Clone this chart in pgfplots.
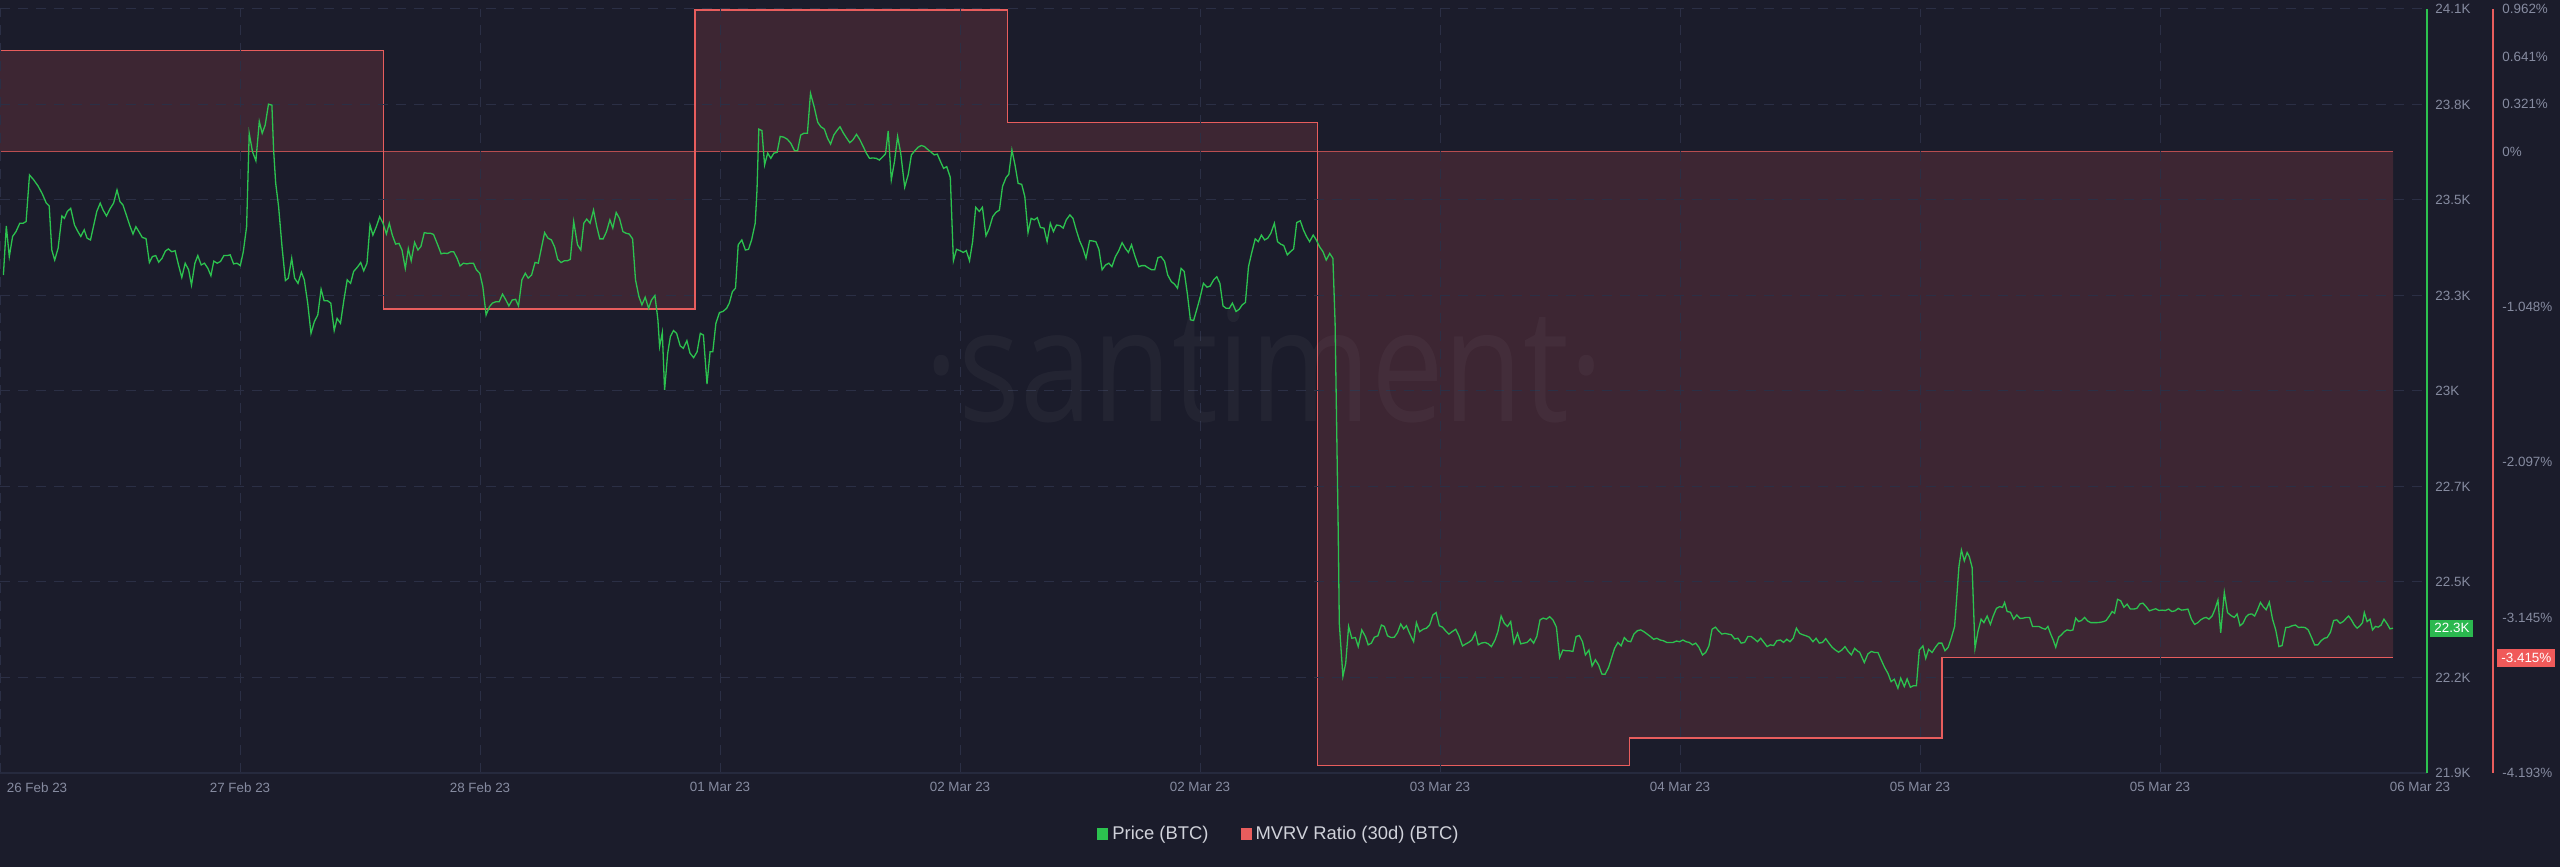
\documentclass[border=0pt]{standalone}
\usepackage{pgfplots}
\usepackage{pgfplotstable}
\usepackage{graphicx}
\usepackage{fontspec}
\pgfplotsset{compat=1.18}
\setmainfont{Liberation Sans}
\newfontfamily\wmfont{Open Sans}
\definecolor{bg}{HTML}{1B1C2B}
\definecolor{gridc}{HTML}{2B2F45}
\definecolor{axisc}{HTML}{262A3E}
\definecolor{tickc}{HTML}{868BA0}
\definecolor{legc}{HTML}{D0D2DA}
\definecolor{pgreen}{HTML}{2CC24F}
\definecolor{ptag}{HTML}{2BB84F}
\definecolor{mred}{HTML}{E85D5D}
\definecolor{mtag}{HTML}{F05A5A}
\newcommand\ticksize{\fontsize{6.7}{8}\selectfont}

\pgfplotstableread{
x y
3.4 23334
6.3 23475
9.3 23387
12.6 23445
16.0 23459
19.8 23483
23.1 23483
26.1 23488
29.5 23622
33.7 23608
37.9 23591
42.1 23569
46.3 23541
49.2 23533
51.8 23406
54.7 23377
58.1 23411
61.9 23504
64.4 23497
67.3 23517
70.7 23526
74.5 23478
77.9 23459
80.8 23445
84.2 23464
87.1 23440
90.5 23435
93.4 23473
96.8 23517
100.2 23541
103.1 23521
106.5 23504
110.3 23526
113.6 23541
117.0 23579
120.0 23545
122.9 23536
126.3 23507
129.6 23478
133.0 23452
135.9 23473
138.9 23459
142.3 23442
146.0 23439
149.4 23370
152.4 23387
155.7 23390
158.7 23371
162.0 23382
165.4 23403
168.4 23409
171.7 23401
175.1 23404
178.5 23363
181.8 23327
185.2 23368
188.6 23349
191.5 23305
194.9 23368
197.8 23390
201.2 23363
204.5 23368
207.9 23353
210.9 23332
213.8 23374
217.2 23368
220.5 23373
223.9 23390
227.3 23390
230.2 23392
233.6 23366
237.0 23368
240.3 23361
243.3 23401
246.6 23473
249.2 23742
252.5 23689
255.9 23663
259.3 23776
262.2 23742
265.2 23766
268.5 23826
271.9 23823
273.6 23694
275.7 23598
278.6 23531
282.0 23416
285.4 23318
288.3 23325
291.7 23382
294.6 23325
298.0 23310
301.4 23342
304.3 23320
307.7 23253
311.0 23166
314.4 23200
317.8 23219
321.1 23293
324.1 23260
327.5 23260
330.8 23253
334.2 23174
337.1 23209
340.5 23195
343.9 23262
347.2 23320
350.6 23310
353.6 23344
357.8 23358
360.7 23370
363.7 23346
367.0 23368
370.0 23478
372.9 23449
376.3 23473
379.7 23502
383.0 23483
386.4 23452
389.3 23483
392.3 23449
395.6 23423
399.0 23425
402.0 23406
405.3 23353
408.3 23410
411.2 23375
414.6 23428
417.9 23406
420.9 23416
424.3 23456
427.6 23454
430.6 23454
433.5 23451
437.7 23421
441.1 23395
444.0 23397
447.4 23396
450.8 23401
453.7 23401
457.1 23382
460.0 23360
463.4 23368
466.8 23366
470.1 23368
473.5 23368
476.4 23349
479.8 23339
482.8 23301
486.1 23219
489.5 23243
492.4 23253
495.8 23257
499.2 23257
502.5 23279
505.5 23264
508.9 23245
512.2 23262
515.6 23264
518.5 23245
521.9 23320
525.3 23339
528.2 23325
531.6 23334
535.0 23370
538.3 23368
541.7 23416
544.6 23456
548.0 23440
551.4 23435
554.7 23414
557.7 23379
561.1 23370
564.4 23375
567.4 23375
570.3 23379
573.7 23488
577.5 23421
580.8 23406
583.8 23483
586.7 23495
590.1 23483
593.5 23521
596.8 23473
599.8 23438
603.1 23438
606.5 23459
609.9 23493
612.8 23469
616.2 23514
619.5 23497
622.9 23459
626.3 23454
629.2 23452
632.6 23438
635.5 23320
638.9 23272
641.9 23248
645.2 23270
648.6 23238
651.5 23262
654.9 23275
657.9 23205
659.6 23128
662.3 23168
664.6 23003
667.7 23109
670.4 23157
673.5 23174
676.6 23166
680.2 23130
683.3 23123
686.9 23145
690.0 23109
693.6 23096
697.1 23113
700.3 23166
703.4 23161
707.0 23020
710.1 23113
712.8 23113
715.9 23195
719.5 23226
723.0 23229
726.6 23238
729.3 23253
732.4 23286
735.5 23296
738.2 23421
741.8 23435
745.4 23406
748.5 23408
751.6 23435
755.2 23483
757.0 23579
758.8 23754
761.9 23750
764.6 23651
767.7 23685
770.8 23670
773.9 23685
777.1 23687
780.2 23733
783.7 23731
787.3 23725
790.9 23713
794.5 23692
797.6 23692
800.7 23737
803.8 23742
807.4 23742
810.5 23857
814.1 23819
817.7 23774
820.8 23761
824.4 23754
827.5 23728
830.6 23711
833.8 23737
836.9 23750
840.0 23761
843.1 23744
846.7 23728
849.8 23715
852.9 23723
856.5 23739
859.6 23725
863.2 23704
866.3 23685
869.5 23670
873.0 23671
876.2 23670
879.3 23665
882.9 23675
885.5 23683
888.2 23749
891.3 23608
894.5 23661
897.6 23733
900.7 23685
904.7 23587
908.3 23624
911.4 23680
914.6 23691
918.1 23702
921.3 23707
924.4 23704
927.5 23696
930.6 23689
934.2 23680
937.3 23682
940.4 23661
943.6 23641
946.7 23646
950.3 23615
953.4 23375
956.5 23408
960.1 23404
963.2 23399
966.3 23404
969.5 23375
972.6 23430
975.7 23529
979.3 23517
982.4 23529
986.0 23447
989.1 23467
992.7 23502
995.8 23514
999.4 23521
1002.5 23589
1006.1 23615
1008.8 23624
1011.9 23694
1015.0 23651
1018.1 23598
1021.7 23595
1024.8 23560
1028.0 23456
1031.1 23497
1034.2 23493
1037.3 23499
1040.4 23471
1044.0 23469
1047.1 23430
1050.3 23483
1053.4 23459
1056.5 23478
1060.1 23476
1063.2 23469
1066.3 23493
1069.9 23507
1073.0 23497
1076.2 23464
1079.7 23432
1082.9 23411
1086.0 23382
1089.6 23433
1092.7 23432
1095.8 23430
1098.9 23408
1102.1 23349
1105.6 23363
1108.8 23368
1111.9 23358
1115.4 23387
1118.6 23403
1122.1 23427
1125.3 23411
1128.4 23399
1131.5 23421
1135.1 23387
1138.7 23358
1141.8 23361
1144.9 23361
1148.0 23355
1151.6 23349
1154.7 23349
1157.9 23384
1161.0 23387
1164.6 23373
1167.7 23334
1171.3 23315
1174.4 23308
1177.5 23296
1181.1 23353
1184.2 23344
1187.3 23281
1190.4 23205
1193.6 23203
1197.1 23238
1200.3 23272
1203.4 23310
1207.0 23299
1210.1 23302
1213.7 23320
1216.8 23329
1219.9 23310
1223.0 23245
1226.2 23238
1229.3 23238
1232.4 23253
1236.0 23229
1239.1 23235
1242.2 23248
1245.4 23255
1248.5 23358
1251.6 23397
1255.2 23438
1258.3 23430
1261.4 23449
1264.6 23435
1267.7 23440
1270.8 23454
1274.4 23483
1277.5 23430
1280.6 23423
1283.7 23419
1287.3 23392
1290.4 23401
1293.6 23409
1296.7 23485
1300.3 23490
1303.4 23464
1306.5 23445
1309.6 23430
1313.2 23449
1316.3 23435
1319.4 23416
1323.0 23401
1326.2 23377
1329.7 23396
1332.9 23382
1335.1 23195
1338.2 22600
1339.3 22331
1342.9 22178
1345.7 22216
1348.6 22322
1351.8 22288
1355.4 22290
1358.2 22264
1361.8 22312
1365.4 22293
1368.2 22269
1371.4 22274
1374.3 22291
1377.9 22295
1381.4 22326
1384.3 22322
1387.5 22295
1391.1 22290
1394.3 22291
1397.5 22304
1400.7 22329
1403.6 22315
1406.4 22324
1409.6 22302
1413.6 22278
1416.4 22333
1419.6 22307
1423.2 22314
1426.4 22317
1429.6 22326
1432.9 22355
1436.1 22362
1439.3 22324
1442.5 22320
1445.7 22309
1448.9 22300
1452.1 22307
1455.7 22314
1458.9 22295
1462.5 22266
1465.4 22271
1468.6 22276
1471.8 22283
1475.4 22304
1478.2 22269
1481.4 22274
1485.0 22276
1488.2 22272
1491.4 22264
1495.0 22283
1497.9 22307
1501.1 22352
1504.3 22331
1507.5 22322
1510.7 22336
1513.9 22274
1517.5 22302
1520.7 22272
1523.9 22274
1527.1 22276
1530.4 22286
1533.6 22274
1536.8 22293
1540.0 22341
1543.2 22346
1546.4 22343
1549.6 22350
1552.9 22341
1556.4 22320
1559.6 22232
1562.9 22254
1566.1 22252
1569.3 22252
1572.9 22250
1576.1 22293
1579.3 22296
1582.5 22278
1585.4 22240
1588.9 22254
1592.1 22208
1595.4 22226
1598.6 22211
1601.8 22185
1605.0 22184
1608.6 22204
1611.4 22230
1614.6 22259
1617.9 22276
1621.1 22266
1624.3 22290
1627.5 22280
1630.7 22278
1633.9 22300
1637.5 22310
1640.7 22312
1643.9 22307
1647.1 22300
1650.4 22293
1653.6 22285
1656.8 22288
1660.0 22283
1663.2 22281
1666.8 22276
1670.0 22276
1673.2 22276
1676.4 22280
1679.6 22278
1682.9 22283
1686.1 22278
1689.3 22276
1692.5 22269
1695.7 22274
1698.9 22262
1702.5 22240
1705.7 22247
1708.9 22266
1712.1 22314
1715.4 22320
1718.6 22309
1721.8 22300
1725.0 22302
1728.2 22300
1731.4 22298
1734.6 22286
1737.9 22288
1741.1 22274
1744.6 22276
1747.9 22293
1751.1 22293
1754.3 22286
1757.5 22278
1760.7 22288
1763.9 22276
1767.1 22264
1770.4 22269
1773.6 22267
1776.8 22281
1780.4 22283
1783.6 22276
1786.8 22285
1790.0 22278
1793.2 22288
1796.4 22317
1799.6 22302
1802.9 22298
1806.1 22295
1809.3 22291
1812.9 22278
1816.1 22288
1819.3 22274
1822.5 22276
1825.7 22287
1828.9 22274
1832.1 22262
1835.4 22254
1838.6 22248
1841.8 22254
1845.0 22264
1848.2 22250
1851.4 22240
1854.6 22259
1857.9 22250
1859.6 22248
1864.3 22218
1867.9 22243
1871.4 22250
1874.6 22247
1877.9 22247
1881.1 22226
1884.6 22204
1887.9 22187
1891.1 22163
1894.3 22170
1897.9 22144
1900.7 22173
1904.3 22149
1907.1 22171
1910.4 22147
1913.2 22151
1916.4 22151
1919.3 22254
1922.9 22266
1925.7 22230
1928.6 22256
1932.1 22247
1935.4 22262
1938.6 22274
1941.8 22274
1945.0 22252
1948.2 22262
1951.4 22290
1954.6 22322
1956.8 22408
1958.9 22494
1961.4 22542
1964.3 22511
1967.1 22535
1969.3 22523
1972.1 22492
1975.0 22259
1977.9 22307
1981.1 22343
1983.9 22333
1987.1 22352
1990.4 22328
1993.2 22352
1996.4 22374
1999.6 22379
2002.5 22377
2004.6 22391
2007.1 22365
2010.4 22363
2013.6 22343
2016.8 22355
2020.0 22345
2023.2 22346
2026.4 22348
2029.6 22348
2032.5 22322
2035.7 22322
2038.9 22322
2042.1 22317
2045.4 22314
2047.9 22322
2050.4 22302
2053.2 22283
2055.7 22262
2058.6 22291
2061.4 22298
2064.3 22307
2067.1 22312
2070.4 22310
2072.9 22312
2075.7 22346
2078.6 22336
2081.4 22339
2084.6 22348
2087.5 22338
2090.7 22333
2093.9 22333
2097.1 22333
2100.4 22334
2103.6 22336
2106.1 22339
2109.3 22352
2112.1 22365
2114.6 22360
2117.5 22400
2120.7 22396
2123.9 22377
2127.1 22386
2130.4 22372
2133.6 22372
2136.8 22374
2140.0 22387
2142.9 22389
2146.1 22379
2149.3 22367
2152.5 22370
2155.7 22373
2158.9 22368
2162.1 22369
2165.4 22368
2168.6 22372
2171.8 22365
2175.0 22367
2178.2 22374
2181.4 22369
2184.6 22370
2187.9 22372
2191.4 22343
2194.6 22328
2197.9 22333
2200.7 22341
2203.6 22346
2206.1 22348
2208.9 22343
2212.1 22352
2215.0 22372
2217.9 22398
2220.7 22304
2224.3 22420
2227.5 22362
2231.1 22353
2234.3 22348
2237.1 22358
2240.0 22324
2242.9 22331
2246.1 22350
2248.9 22357
2251.8 22358
2254.6 22352
2257.5 22370
2260.4 22391
2263.2 22379
2266.1 22370
2269.3 22392
2272.5 22343
2275.7 22312
2278.9 22264
2282.1 22267
2285.7 22319
2288.9 22320
2292.1 22324
2295.4 22326
2298.6 22319
2301.8 22320
2305.0 22319
2308.2 22312
2311.4 22291
2314.6 22269
2317.9 22269
2321.1 22281
2324.3 22288
2327.1 22290
2330.4 22305
2333.6 22339
2336.8 22341
2340.0 22331
2343.2 22336
2346.4 22346
2348.6 22352
2351.4 22341
2354.3 22326
2357.1 22317
2360.0 22324
2362.5 22333
2364.3 22362
2367.1 22336
2370.0 22343
2372.5 22312
2375.4 22322
2378.2 22320
2381.1 22326
2383.9 22343
2386.8 22331
2390.0 22315
2392.9 22317
}\pricedata

\pgfplotstableread{
x y
0 0.681
383.8 -1.062
695.0 0.955
1007.5 0.195
1317.8 -4.144
1629.6 -3.957
1942.0 -3.415
2393.0 -3.415
}\mvrvdata

\begin{document}
\begin{tikzpicture}
\fill[bg] (0,0) rectangle (1280pt,433.5pt);
\useasboundingbox (0,0) rectangle (1280pt,433.5pt);

% MVRV axis (percent, outer right)
\begin{axis}[
  at={(0,47pt)}, anchor=south west,
  scale only axis, width=1213.5pt, height=382pt,
  xmin=0, xmax=2427, ymin=-4.193, ymax=0.962,
  axis line style={draw=none},
  xtick=\empty,
  ytick={-4.193,-3.145,-2.097,-1.048,0,0.321,0.641,0.962},
  yticklabels={-4.193\%,-3.145\%,-2.097\%,-1.048\%,0\%,0.321\%,0.641\%,0.962\%},
  ytick pos=right, yticklabel pos=right,
  major tick length=0pt,
  yticklabel style={anchor=west, inner sep=0pt, xshift=37.5pt, text=tickc, font=\ticksize},
  clip=false,
  legend style={at={(0.5274,-0.0798)}, anchor=center, draw=none, fill=none,
    text=legc, font=\fontsize{9.2}{11}\selectfont, legend columns=2,
    /tikz/every even column/.append style={column sep=14pt}},
  legend cell align=left,
  legend image code/.code={\fill[#1] (0pt,-3pt) rectangle (5.5pt,3pt);},
]
\addplot[const plot, draw=none, fill=mred, fill opacity=0.17, forget plot] table[x=x,y=y]{\mvrvdata} \closedcycle;
\addplot[mred, line width=0.6pt, opacity=0.75, forget plot] coordinates {(0,0) (2393,0)};
\addplot[const plot, mred, line width=0.65pt, forget plot] table[x=x,y=y]{\mvrvdata};
\draw[mred, line width=0.6pt] ([xshift=33pt]rel axis cs:1,0) -- ([xshift=33pt]rel axis cs:1,1);
\node[fill=mtag, text=white, anchor=west, inner xsep=2pt, inner ysep=0pt, minimum height=9pt, font=\ticksize, xshift=35pt] at (axis cs:2427,-3.415) {-3.415\%};
\addlegendimage{fill=pgreen, draw=none}
\addlegendentry{Price (BTC)}
\addlegendimage{fill=mred, draw=none}
\addlegendentry{MVRV Ratio (30d) (BTC)}
\end{axis}

% Price axis
\begin{axis}[
  at={(0,47pt)}, anchor=south west,
  scale only axis, width=1213.5pt, height=382pt,
  xmin=0, xmax=2427, ymin=21900, ymax=24100,
  axis line style={draw=none},
  xtick={37,240,480,720,960,1200,1440,1680,1920,2160,2420},
  xticklabels={26 Feb 23,27 Feb 23,28 Feb 23,01 Mar 23,02 Mar 23,02 Mar 23,03 Mar 23,04 Mar 23,05 Mar 23,05 Mar 23,06 Mar 23},
  extra x ticks={0,240,480,720,960,1200,1440,1680,1920,2160},
  extra x tick labels={},
  extra x tick style={grid=major},
  xticklabel style={anchor=north, inner sep=0pt, yshift=-4.5pt, text=tickc, font=\ticksize},
  ytick={21900,22175,22450,22725,23000,23275,23550,23825,24100},
  yticklabels={21.9K,22.2K,22.5K,22.7K,23K,23.3K,23.5K,23.8K,24.1K},
  ytick pos=right, yticklabel pos=right, xtick pos=bottom,
  major tick length=0pt,
  ymajorgrids=true,
  major grid style={gridc, line width=0.5pt, dash pattern=on 5pt off 4pt},
  yticklabel style={anchor=west, inner sep=0pt, xshift=4pt, text=tickc, font=\ticksize},
  clip=false,
]
\node[anchor=base, text=white, opacity=0.035, inner sep=0pt, font=\wmfont\fontsize{79}{79}\selectfont] at (axis cs:1264,22911) {\scalebox{0.82}[1]{·santiment·}};
\addplot[pgreen, line width=0.65pt] table[x=x,y=y]{\pricedata};
\draw[axisc, line width=0.6pt] (rel axis cs:0,0) -- (rel axis cs:1,0);
\draw[pgreen, line width=0.6pt] (rel axis cs:1,0) -- (rel axis cs:1,1);
\node[fill=ptag, text=white, anchor=west, inner xsep=2pt, inner ysep=0pt, minimum height=8.5pt, font=\ticksize, xshift=1.5pt] at (axis cs:2427,22317) {22.3K};
\end{axis}
\end{tikzpicture}
\end{document}
